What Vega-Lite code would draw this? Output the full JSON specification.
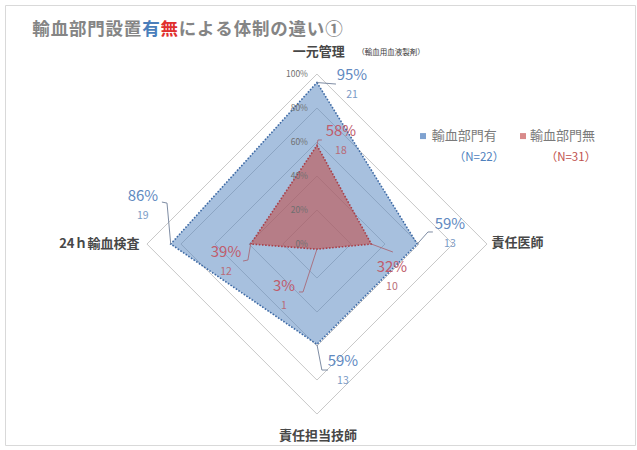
{
  "$schema": "https://vega.github.io/schema/vega-lite/v6.json",
  "width": 630,
  "height": 440,
  "padding": {"left": 5, "top": 5, "right": 2, "bottom": 5},
  "background": "#ffffff",
  "config": {
    "view": {"stroke": "#d9d9d9", "strokeWidth": 1},
    "font": "Noto Sans CJK JP",
    "text": {"font": "Noto Sans CJK JP"}
  },
  "resolve": {"scale": {"color": "independent", "size": "independent"}},
  "datasets": {
    "taisei": [
      {"item": "一元管理", "series": "輸血部門有", "pct": 95, "count": 21},
      {"item": "責任医師", "series": "輸血部門有", "pct": 59, "count": 13},
      {"item": "責任担当技師", "series": "輸血部門有", "pct": 59, "count": 13},
      {"item": "24ｈ輸血検査", "series": "輸血部門有", "pct": 86, "count": 19},
      {"item": "一元管理", "series": "輸血部門無", "pct": 58, "count": 18},
      {"item": "責任医師", "series": "輸血部門無", "pct": 32, "count": 10},
      {"item": "責任担当技師", "series": "輸血部門無", "pct": 3, "count": 1},
      {"item": "24ｈ輸血検査", "series": "輸血部門無", "pct": 39, "count": 12}
    ],
    "grid": [
      {"level": 0}, {"level": 20}, {"level": 40}, {"level": 60}, {"level": 80}, {"level": 100}
    ],
    "legend": [
      {"series": "輸血部門有", "n": 22},
      {"series": "輸血部門無", "n": 31}
    ],
    "title": [
      {"ch": "輸", "k": 0}, {"ch": "血", "k": 1}, {"ch": "部", "k": 2}, {"ch": "門", "k": 3},
      {"ch": "設", "k": 4}, {"ch": "置", "k": 5}, {"ch": "有", "k": 6}, {"ch": "無", "k": 7},
      {"ch": "に", "k": 8}, {"ch": "よ", "k": 9}, {"ch": "る", "k": 10}, {"ch": "体", "k": 11},
      {"ch": "制", "k": 12}, {"ch": "の", "k": 13}, {"ch": "違", "k": 14}, {"ch": "い", "k": 15},
      {"ch": "①", "k": 16}
    ]
  },
  "encoding": {
    "x": {"field": "X", "type": "quantitative", "scale": {"domain": [-183.5, 187.1], "nice": false, "zero": false}, "axis": null},
    "y": {"field": "Y", "type": "quantitative", "scale": {"domain": [-118.2, 140.6], "nice": false, "zero": false}, "axis": null}
  },
  "layer": [
    {
      "data": {"name": "grid"},
      "transform": [
        {"calculate": "0", "as": "X"},
        {"calculate": "0", "as": "Y"}
      ],
      "mark": {"type": "point", "shape": "diamond", "filled": false, "color": "#c8c8c8", "strokeWidth": 1, "opacity": 1},
      "encoding": {
        "size": {"field": "level", "type": "quantitative", "scale": {"type": "pow", "exponent": 2, "domain": [0, 100], "range": [0, 115600]}, "legend": null}
      }
    },
    {
      "data": {"name": "taisei"},
      "transform": [
        {"filter": "datum.series == '輸血部門有'"},
        {"calculate": "indexof(['一元管理','責任医師','責任担当技師','24ｈ輸血検査'], datum.item)", "as": "idx"},
        {"calculate": "datum.pct * [0,1,0,-1][datum.idx]", "as": "X"},
        {"calculate": "datum.pct * [1,0,-1,0][datum.idx]", "as": "Y"}
      ],
      "mark": {"type": "line", "interpolate": "linear-closed", "fill": "#4f81bd", "fillOpacity": 0.5, "stroke": "#3e6aa5", "strokeWidth": 1.6, "strokeDash": [1.6, 1.6]},
      "encoding": {"order": {"field": "idx", "type": "quantitative"}}
    },
    {
      "data": {"name": "taisei"},
      "transform": [
        {"filter": "datum.series == '輸血部門無'"},
        {"calculate": "indexof(['一元管理','責任医師','責任担当技師','24ｈ輸血検査'], datum.item)", "as": "idx"},
        {"calculate": "datum.pct * [0,1,0,-1][datum.idx]", "as": "X"},
        {"calculate": "datum.pct * [1,0,-1,0][datum.idx]", "as": "Y"}
      ],
      "mark": {"type": "line", "interpolate": "linear-closed", "fill": "#c0504d", "fillOpacity": 0.6, "stroke": "#a8404a", "strokeWidth": 1.6, "strokeDash": [1.6, 1.6]},
      "encoding": {"order": {"field": "idx", "type": "quantitative"}}
    },
    {
      "data": {"name": "grid"},
      "transform": [
        {"calculate": "0", "as": "X"},
        {"calculate": "datum.level", "as": "Y"},
        {"calculate": "datum.level + '%'", "as": "lab"}
      ],
      "mark": {"type": "text", "align": "right", "baseline": "middle", "dx": -9, "fontSize": 8.5, "color": "#6f6f6f"},
      "encoding": {"text": {"field": "lab"}}
    },
    {
      "data": {"name": "taisei"},
      "transform": [
        {"calculate": "indexof(['一元管理','責任医師','責任担当技師','24ｈ輸血検査'], datum.item)", "as": "idx"},
        {"calculate": "datum.series == '輸血部門有' ? 0 : 1", "as": "sidx"},
        {"calculate": "datum.sidx * 4 + datum.idx", "as": "k"},
        {"calculate": "datum.pct * [0,1,0,-1][datum.idx]", "as": "X"},
        {"calculate": "datum.pct * [1,0,-1,0][datum.idx]", "as": "Y"},
        {"calculate": "[11.2,65.3,2.9,-88.2,0.6,44.7,-8.2,-40.6][datum.k]", "as": "BX"},
        {"calculate": "[94.1,7.1,-74.1,24.1,61.2,-4.7,-28.2,-9.4][datum.k]", "as": "BY"}
      ],
      "mark": {"type": "rule", "strokeWidth": 0.9},
      "encoding": {
        "x2": {"field": "BX"},
        "y2": {"field": "BY"},
        "color": {"field": "series", "type": "nominal", "scale": {"domain": ["輸血部門有", "輸血部門無"], "range": ["#6f7f98", "#a86a78"]}, "legend": null}
      }
    },
    {
      "data": {"name": "taisei"},
      "transform": [
        {"calculate": "indexof(['一元管理','責任医師','責任担当技師','24ｈ輸血検査'], datum.item)", "as": "idx"},
        {"calculate": "datum.series == '輸血部門有' ? 0 : 1", "as": "sidx"},
        {"calculate": "datum.sidx * 4 + datum.idx", "as": "k"},
        {"calculate": "[11.2,65.3,2.9,-88.2,0.6,44.7,-8.2,-40.6][datum.k]", "as": "X"},
        {"calculate": "[94.1,7.1,-74.1,24.1,61.2,-4.7,-28.2,-9.4][datum.k]", "as": "Y"},
        {"calculate": "[11.2,68.2,6.5,-91.2,2.9,44.7,-10.6,-43.5][datum.k]", "as": "EX"},
        {"calculate": "[94.1,7.1,-74.1,24.7,61.2,-4.7,-28.2,-10][datum.k]", "as": "EY"}
      ],
      "mark": {"type": "rule", "strokeWidth": 0.9},
      "encoding": {
        "x2": {"field": "EX"},
        "y2": {"field": "EY"},
        "color": {"field": "series", "type": "nominal", "scale": {"domain": ["輸血部門有", "輸血部門無"], "range": ["#6f7f98", "#a86a78"]}, "legend": null}
      }
    },
    {
      "data": {"name": "taisei"},
      "transform": [
        {"calculate": "indexof(['一元管理','責任医師','責任担当技師','24ｈ輸血検査'], datum.item)", "as": "idx"},
        {"calculate": "datum.series == '輸血部門有' ? 0 : 1", "as": "sidx"},
        {"calculate": "datum.sidx * 4 + datum.idx", "as": "k"},
        {"calculate": "[20.6,78.2,15.3,-102.4,14.1,44.1,-19.4,-53.5][datum.k]", "as": "X"},
        {"calculate": "[99.4,11.8,-68.8,28.2,66.5,-13.5,-24.7,-4.7][datum.k]", "as": "Y"},
        {"calculate": "datum.pct + '%'", "as": "lab"}
      ],
      "mark": {"type": "text", "align": "center", "baseline": "middle", "fontSize": 15},
      "encoding": {
        "text": {"field": "lab"},
        "color": {"field": "series", "type": "nominal", "scale": {"domain": ["輸血部門有", "輸血部門無"], "range": ["#6189bf", "#c05c6c"]}, "legend": null}
      }
    },
    {
      "data": {"name": "taisei"},
      "transform": [
        {"calculate": "indexof(['一元管理','責任医師','責任担当技師','24ｈ輸血検査'], datum.item)", "as": "idx"},
        {"calculate": "datum.series == '輸血部門有' ? 0 : 1", "as": "sidx"},
        {"calculate": "datum.sidx * 4 + datum.idx", "as": "k"},
        {"calculate": "[20.6,78.2,15.3,-102.4,14.1,44.1,-19.4,-53.5][datum.k]", "as": "X"},
        {"calculate": "[99.4,11.8,-68.8,28.2,66.5,-13.5,-24.7,-4.7][datum.k]", "as": "Y"}
      ],
      "mark": {"type": "text", "align": "center", "baseline": "middle", "fontSize": 10.5, "dy": 20},
      "encoding": {
        "text": {"field": "count", "type": "quantitative"},
        "color": {"field": "series", "type": "nominal", "scale": {"domain": ["輸血部門有", "輸血部門無"], "range": ["#7a9ac6", "#b86c78"]}, "legend": null}
      }
    },
    {
      "data": {"name": "taisei"},
      "transform": [
        {"filter": "datum.series == '輸血部門有'"},
        {"calculate": "indexof(['一元管理','責任医師','責任担当技師','24ｈ輸血検査'], datum.item)", "as": "idx"},
        {"calculate": "[1,118,0.6,-128][datum.idx]", "as": "X"},
        {"calculate": "[113,0.6,-113,0][datum.idx]", "as": "Y"}
      ],
      "mark": {"type": "text", "align": "center", "baseline": "middle", "fontSize": 13, "fontWeight": "bold", "color": "#474747"},
      "encoding": {"text": {"field": "item"}}
    },
    {
      "data": {"values": [{"t": "（輸血用血液製剤）"}]},
      "transform": [
        {"calculate": "43.5", "as": "X"},
        {"calculate": "112.4", "as": "Y"}
      ],
      "mark": {"type": "text", "align": "center", "baseline": "middle", "fontSize": 7.5, "color": "#3a3a3a"},
      "encoding": {"text": {"field": "t"}}
    },
    {
      "data": {"name": "legend"},
      "transform": [
        {"calculate": "datum.series == '輸血部門有' ? 0 : 1", "as": "sidx"},
        {"calculate": "[62.4,121.2][datum.sidx]", "as": "X"},
        {"calculate": "63.5", "as": "Y"}
      ],
      "mark": {"type": "point", "shape": "square", "filled": true, "size": 36, "opacity": 1},
      "encoding": {
        "color": {"field": "series", "type": "nominal", "scale": {"domain": ["輸血部門有", "輸血部門無"], "range": ["#7fa2d0", "#d88a8a"]}, "legend": null}
      }
    },
    {
      "data": {"name": "legend"},
      "transform": [
        {"calculate": "datum.series == '輸血部門有' ? 0 : 1", "as": "sidx"},
        {"calculate": "[67.6,125.3][datum.sidx]", "as": "X"},
        {"calculate": "63.5", "as": "Y"}
      ],
      "mark": {"type": "text", "align": "left", "baseline": "middle", "fontSize": 13, "color": "#7a7a7a"},
      "encoding": {"text": {"field": "series"}}
    },
    {
      "data": {"name": "legend"},
      "transform": [
        {"calculate": "datum.series == '輸血部門有' ? 0 : 1", "as": "sidx"},
        {"calculate": "[95.3,149.4][datum.sidx]", "as": "X"},
        {"calculate": "50.9", "as": "Y"},
        {"calculate": "'（N=' + datum.n + '）'", "as": "lab"}
      ],
      "mark": {"type": "text", "align": "center", "baseline": "middle", "fontSize": 11.5},
      "encoding": {
        "text": {"field": "lab"},
        "color": {"field": "series", "type": "nominal", "scale": {"domain": ["輸血部門有", "輸血部門無"], "range": ["#4f81bd", "#c0504d"]}, "legend": null}
      }
    },
    {
      "data": {"name": "title"},
      "transform": [
        {"calculate": "(32 + (datum.k + 0.5) * 18.3 - 317) / 1.7", "as": "X"},
        {"calculate": "125.9", "as": "Y"},
        {"calculate": "datum.k == 6 ? 'b' : (datum.k == 7 ? 'r' : 'g')", "as": "tone"}
      ],
      "mark": {"type": "text", "align": "center", "baseline": "middle", "fontSize": 17.5, "fontWeight": "bold"},
      "encoding": {
        "text": {"field": "ch"},
        "color": {"field": "tone", "type": "nominal", "scale": {"domain": ["g", "b", "r"], "range": ["#858585", "#4a7ebb", "#e0302e"]}, "legend": null}
      }
    }
  ]
}
